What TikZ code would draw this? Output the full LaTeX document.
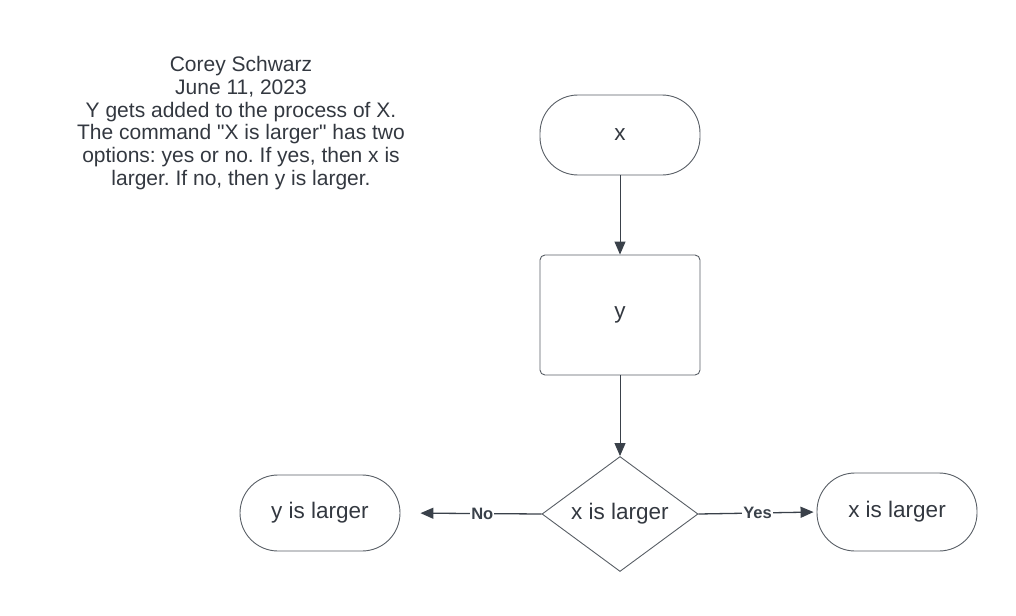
\documentclass[tikz,border=0pt]{standalone}
\usepackage{fontspec}
\setmainfont{Liberation Sans}
\usetikzlibrary{shapes.geometric,arrows.meta}
\definecolor{lc}{HTML}{3A414A}
\definecolor{tc}{HTML}{333840}
\tikzset{
  term/.style={draw=lc!85, line width=0.9pt, rounded corners=38pt, minimum width=160pt, text=tc, font=\fontsize{22.5}{26}\selectfont},
  procbox/.style={draw=lc!85, line width=0.9pt, rounded corners=5pt, minimum width=160pt, minimum height=120pt, text=tc, font=\fontsize{22.5}{26}\selectfont},
  decision/.style={draw=lc!85, line width=0.9pt, diamond, aspect=1.36, minimum width=156pt, minimum height=115pt, inner sep=0pt, text=tc, font=\fontsize{22.5}{26}\selectfont},
  conn/.style={draw=lc, line width=1.3pt, -{Triangle[length=13pt,width=11pt]}},
  lab/.style={fill=white, inner sep=1pt, text=lc, font=\bfseries\fontsize{16.5}{18}\selectfont},
  note/.style={align=center, text=tc, font=\frenchspacing\fontsize{21}{22.7}\selectfont}
}
\begin{document}
\begin{tikzpicture}[x=1pt,y=-1pt]
\useasboundingbox (0,0) rectangle (1016,615);
\node[note] (n) at (241,123) {Corey Schwarz\\June 11, 2023\\Y gets added to the process of X.\\The command \textquotedbl X is larger\textquotedbl\ has two\\options: yes or no. If yes, then x is\\larger. If no, then y is larger.};
\node[term, minimum height=80pt] (x) at (620,135) {x};
\node[procbox] (y) at (620,315) {y};
\node[decision] (d) at (620,514) {x is larger};
\node[term, minimum height=76pt] (yl) at (320,513) {y is larger};
\node[term, minimum height=78pt] (xl) at (897,512) {x is larger};
\draw[conn, line width=1pt] (x) -- (y);
\draw[conn, line width=1pt] (y) -- (d);
\draw[conn, shorten >=20pt] (d.west) -- (yl.east) node[lab, pos=0.42] {No};
\draw[conn, shorten >=3pt] (d.east) -- (xl.west) node[lab, pos=0.5] {Yes};
\end{tikzpicture}
\end{document}
